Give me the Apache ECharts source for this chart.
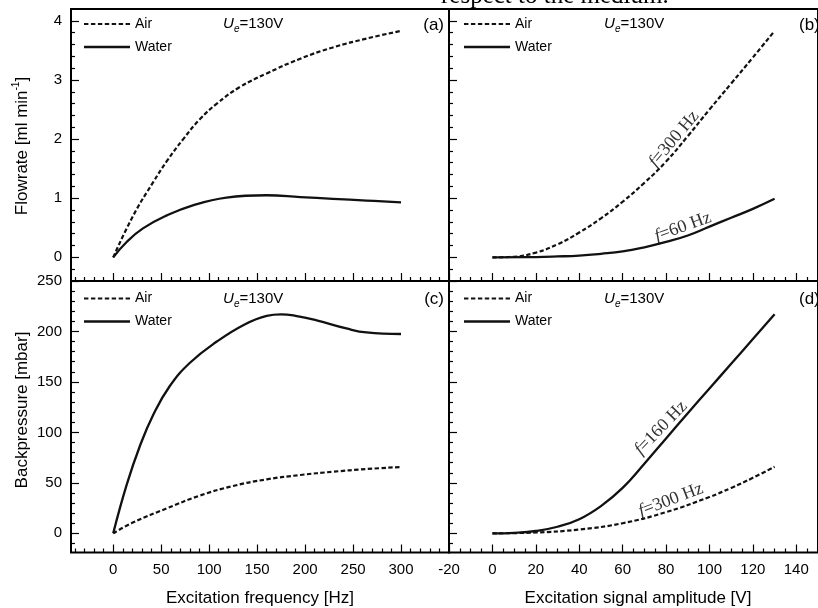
<!DOCTYPE html>
<html><head><meta charset="utf-8">
<script src="https://cdn.jsdelivr.net/npm/echarts@6/dist/echarts.min.js"></script>
<style>html,body{margin:0;padding:0;background:#fff}#c{width:818px;height:608px}</style>
</head><body><div id="c"></div>
<script>
// ---- data ----
const freqAirA = [0, 21, 42, 56, 73, 90, 108, 132, 160, 195, 229, 264, 300];
const flowAirA = [0, 0.71, 1.28, 1.63, 2.0, 2.33, 2.6, 2.88, 3.11, 3.36, 3.55, 3.70, 3.83];
const freqWaterA = [0, 14, 31, 56, 83, 118, 160, 195, 229, 264, 300];
const flowWaterA = [0, 0.26, 0.49, 0.71, 0.88, 1.01, 1.05, 1.02, 0.99, 0.96, 0.93];
const ampAirB = [0, 10, 20, 30, 40, 50, 60, 70, 80, 90, 100, 110, 120, 130];
const flowAirB = [0, 0.01, 0.08, 0.22, 0.42, 0.66, 0.94, 1.26, 1.62, 2.05, 2.5, 2.94, 3.38, 3.83];
const ampWaterB = [0, 20, 30, 40, 50, 60, 70, 80, 90, 100, 110, 120, 130];
const flowWaterB = [0, 0.005, 0.015, 0.03, 0.06, 0.1, 0.17, 0.26, 0.37, 0.52, 0.67, 0.82, 0.99];
const freqAirC = [0, 21, 56, 90, 125, 160, 195, 229, 264, 300];
const bpAirC = [0, 10.9, 24.8, 37.3, 46.9, 53.5, 57.8, 61, 63.7, 65.7];
const freqWaterC = [0, 14, 28, 42, 59, 80, 108, 136, 160, 175, 190, 212, 243, 264, 300];
const bpWaterC = [0, 48, 87, 118, 146, 169, 190, 206.5, 215.5, 217, 215.5, 211, 203, 199, 197.5];
const ampAirD = [0, 20, 40, 60, 80, 100, 110, 120, 130];
const bpAirD = [0, 0.8, 3.8, 10, 21, 36, 45, 55, 66];
const ampWaterD = [0, 10, 20, 30, 40, 50, 60, 70, 80, 90, 100, 110, 120, 130];
const bpWaterD = [0, 0.5, 2.3, 6.5, 14, 27, 45, 69, 94, 119, 143.5, 168, 192.5, 217];

// ---- tick positions / labels ----
const ticksFreqMajor = [0, 50, 100, 150, 200, 250, 300];
const ticksFreqMinor = [-40, -30, -20, -10, 10, 20, 30, 40, 60, 70, 80, 90, 110, 120, 130, 140, 160, 170, 180, 190, 210, 220, 230, 240, 260, 270, 280, 290, 310, 320, 330, 340];
const ticksAmpMajor = [-20, 0, 20, 40, 60, 80, 100, 120, 140];
const ticksAmpMinor = [-15, -10, -5, 5, 10, 15, 25, 30, 35, 45, 50, 55, 65, 70, 75, 85, 90, 95, 105, 110, 115, 125, 130, 135, 145];
const ticksFlowMajor = [0, 1, 2, 3, 4];
const ticksFlowMinor = [-0.2, 0.2, 0.4, 0.6, 0.8, 1.2, 1.4, 1.6, 1.8, 2.2, 2.4, 2.6, 2.8, 3.2, 3.4, 3.6, 3.8];
const ticksBpMajor = [0, 50, 100, 150, 200, 250];
const ticksBpMinor = [-10, 10, 20, 30, 40, 60, 70, 80, 90, 110, 120, 130, 140, 160, 170, 180, 190, 210, 220, 230, 240];

const FONT = 'Liberation Sans';
const SERIF = 'Liberation Serif';

function axis(dim, gridIndex, min, max, vals, len, showLabel) {
  return {
    type: 'value', gridIndex, min, max,
    position: dim === 'x' ? 'bottom' : 'left',
    splitLine: { show: false },
    axisLine: { show: false, onZero: false },
    axisTick: { show: true, inside: true, length: len, customValues: vals, lineStyle: { color: '#000', width: 1.2 } },
    axisLabel: { show: showLabel, customValues: vals, margin: dim === 'x' ? 10 : 9, color: '#000', fontSize: 15, fontFamily: FONT }
  };
}

function ser(name, xs, ys, gi, dashed) {
  return {
    type: 'line', name, xAxisIndex: gi * 2, yAxisIndex: gi * 2,
    data: xs.map((x, i) => [x, ys[i]]),
    symbol: 'none', showSymbol: false, smooth: 0.45, silent: true,
    lineStyle: { color: '#111', width: dashed ? 2.2 : 2.3, type: dashed ? [4.4, 2.4] : 'solid' },
    itemStyle: { color: '#111' }, z: 3
  };
}

// legend samples: dashed (7 dashes) and solid bar, 46 px wide
const ICON_DASH = 'path://M0 0h4.4v2.2h-4.4z M6.95 0h4.4v2.2h-4.4z M13.9 0h4.4v2.2h-4.4z M20.8 0h4.4v2.2h-4.4z M27.7 0h4.4v2.2h-4.4z M34.7 0h4.4v2.2h-4.4z M41.6 0h4.4v2.2h-4.4z';
const ICON_SOLID = 'path://M0 0h46v2.3h-46z';

function legend(left, top) {
  return {
    data: [{ name: 'Air', icon: ICON_DASH }, { name: 'Water', icon: ICON_SOLID }],
    orient: 'vertical', left, top, padding: 0,
    itemWidth: 46, itemHeight: 14, itemGap: 9, selectedMode: false,
    itemStyle: { color: '#111', borderWidth: 0 },
    textStyle: { fontSize: 14, color: '#000', fontFamily: FONT }
  };
}

function txt(x, y, text, font, align, extra) {
  return Object.assign({ type: 'text', x, y, silent: true,
    style: { text, font, fill: '#000', textAlign: align || 'left', align: align || 'left', textVerticalAlign: 'middle', verticalAlign: 'middle' } }, extra || {});
}

function ue(x, y) {
  return [
    txt(x, y, 'U', 'italic 15px "' + FONT + '"'),
    txt(x + 11, y + 5, 'e', 'italic 10px "' + FONT + '"'),
    txt(x + 16.5, y, '=130V', '15px "' + FONT + '"')
  ];
}

function fLabel(x, y, deg, value) {
  return {
    type: 'text', x, y, rotation: deg * Math.PI / 180, silent: true,
    style: {
      text: '{i|f}{n|=' + value + '}', textAlign: 'center', align: 'center', textVerticalAlign: 'middle', verticalAlign: 'middle',
      rich: {
        i: { fontFamily: SERIF, fontStyle: 'italic', fontSize: 18, fill: '#333' },
        n: { fontFamily: SERIF, fontSize: 18, fill: '#333' }
      }
    }
  };
}

const grids = [
  { left: 71, top: 9, width: 378, height: 272 },
  { left: 449, top: 9, width: 380, height: 272 },
  { left: 71, top: 281, width: 378, height: 271.5 },
  { left: 449, top: 281, width: 380, height: 271.5 }
].map(g => Object.assign(g, { show: true, borderColor: '#000', borderWidth: 2, backgroundColor: 'transparent' }));

const option = {
  animation: false,
  backgroundColor: '#fff',
  grid: grids,
  xAxis: [
    axis('x', 0, -44, 350, ticksFreqMajor, 8, false), axis('x', 0, -44, 350, ticksFreqMinor, 4, false),
    axis('x', 1, -20, 150, ticksAmpMajor, 8, false), axis('x', 1, -20, 150, ticksAmpMinor, 4, false),
    axis('x', 2, -44, 350, ticksFreqMajor, 8, true), axis('x', 2, -44, 350, ticksFreqMinor, 4, false),
    axis('x', 3, -20, 150, ticksAmpMajor, 8, true), axis('x', 3, -20, 150, ticksAmpMinor, 4, false)
  ],
  yAxis: [
    axis('y', 0, -0.4, 4.2, ticksFlowMajor, 8, true), axis('y', 0, -0.4, 4.2, ticksFlowMinor, 4, false),
    axis('y', 1, -0.4, 4.2, ticksFlowMajor, 8, false), axis('y', 1, -0.4, 4.2, ticksFlowMinor, 4, false),
    axis('y', 2, -19, 250, ticksBpMajor, 8, true), axis('y', 2, -19, 250, ticksBpMinor, 4, false),
    axis('y', 3, -19, 250, ticksBpMajor, 8, false), axis('y', 3, -19, 250, ticksBpMinor, 4, false)
  ],
  legend: [legend(84, 17), legend(464, 17), legend(84, 291.5), legend(464, 291.5)],
  series: [
    ser('Air', freqAirA, flowAirA, 0, true), ser('Water', freqWaterA, flowWaterA, 0, false),
    ser('Air', ampAirB, flowAirB, 1, true), ser('Water', ampWaterB, flowWaterB, 1, false),
    ser('Air', freqAirC, bpAirC, 2, true), ser('Water', freqWaterC, bpWaterC, 2, false),
    ser('Air', ampAirD, bpAirD, 3, true), ser('Water', ampWaterD, bpWaterD, 3, false)
  ],
  graphic: [
    txt(441, -4, 'respect to the medium.', '25px "' + SERIF + '"'),
    txt(444, 25, '(a)', '17px "' + FONT + '"', 'right'),
    txt(799, 25, '(b)', '17px "' + FONT + '"'),
    txt(444, 299, '(c)', '17px "' + FONT + '"', 'right'),
    txt(799, 299, '(d)', '17px "' + FONT + '"'),
    ...ue(223, 24), ...ue(604, 24), ...ue(223, 299), ...ue(604, 299),
    fLabel(674, 139, 50, '300 Hz'),
    fLabel(683, 227, 20, '60 Hz'),
    fLabel(661, 428, 46, '160 Hz'),
    fLabel(671, 500, 21, '300 Hz'),
    txt(260, 598, 'Excitation frequency [Hz]', '17px "' + FONT + '"', 'center'),
    txt(638, 598, 'Excitation signal amplitude [V]', '17px "' + FONT + '"', 'center'),
    txt(22, 410, 'Backpressure [mbar]', '17px "' + FONT + '"', 'center', { rotation: Math.PI / 2 }),
    {
      type: 'text', x: 21, y: 146, rotation: Math.PI / 2, silent: true,
      style: {
        text: '{n|Flowrate [ml min}{s|-1}{n|]}', textAlign: 'center', align: 'center', textVerticalAlign: 'middle', verticalAlign: 'middle',
        rich: {
          n: { fontFamily: FONT, fontSize: 17, fill: '#000', lineHeight: 20, verticalAlign: 'bottom' },
          s: { fontFamily: FONT, fontSize: 10, fill: '#000', lineHeight: 20, verticalAlign: 'top' }
        }
      }
    }
  ]
};

const chart = echarts.init(document.getElementById('c'), null, { renderer: 'canvas' });
chart.setOption(option);
</script>
</body></html>
